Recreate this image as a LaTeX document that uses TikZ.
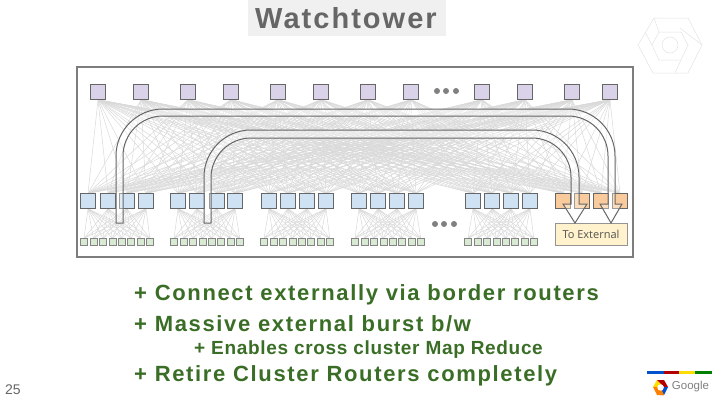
\documentclass[tikz,border=0pt]{standalone}
\usepackage{fontspec}
\setmainfont{Liberation Sans}
\newfontfamily\labelfont{Open Sans}
\usetikzlibrary{backgrounds}
\definecolor{topfill}{HTML}{D9D2E9}
\definecolor{midfill}{HTML}{CFE2F3}
\definecolor{srvfill}{HTML}{D9EAD3}
\definecolor{extfill}{HTML}{F9CB9C}
\definecolor{boxfill}{HTML}{FFF2CC}
\definecolor{linegray}{HTML}{666666}
\definecolor{bodygreen}{HTML}{3A6E26}
\tikzset{
	topsw/.style = {draw = linegray, fill = topfill, minimum size = 15pt, inner sep = 0pt},
	midsw/.style = {draw = linegray, fill = midfill, minimum size = 15pt, inner sep = 0pt},
	extsw/.style = {draw = linegray, fill = extfill, minimum size = 15pt, inner sep = 0pt},
	srv/.style = {draw = linegray!80, fill = srvfill, minimum size = 7pt, inner sep = 0pt},
	dotnode/.style = {circle, fill = gray, minimum size = 6pt, inner sep = 0pt},
	mesh/.style = {gray!30, line width = 0.5pt},
	tube/.style = {draw = linegray, line width = 1pt, fill = white, fill opacity = 0.35},
	body/.style = {text = bodygreen, font = \bfseries\addfontfeature{LetterSpace=7.5}\fontsize{22}{24}\selectfont, anchor = west, inner sep = 0pt},
	subbody/.style = {text = bodygreen, font = \bfseries\addfontfeature{LetterSpace=3.5}\fontsize{19}{21}\selectfont, anchor = west, inner sep = 0pt},
	watermark/.style = {gray!22, line width = 0.5pt}
}
\begin{document}
\begin{tikzpicture}[x = 1pt, y = -1pt]
	\useasboundingbox (0,0) rectangle (720,405);
	% title
	\node (titlebox) [fill = gray!12, minimum width = 198pt, minimum height = 36pt, inner sep = 0pt] at (347,18) {};
	\node (title) [text = linegray, font = \bfseries\addfontfeature{LetterSpace=7}\fontsize{29}{30}\selectfont, inner sep = 0pt] at (346,18) {Watchtower};
	% watermark
	\draw [watermark] (654,18) -- (688,18) -- (702,45) -- (688,73) -- (653,73) -- (638,45) -- cycle;
	\draw [watermark] (659,32) -- (681,32) -- (688,45) -- (681,60) -- (659,60) -- (652,45) -- cycle;
	\draw [watermark] (670,45) circle (8);
	\draw [watermark] (654,18) -- (659,32) (680,28) -- (702,45) (681,60) -- (675,73) (645,32) -- (652,45);
	% frame
	\node (frame) [draw = linegray!85, line width = 1.3pt, minimum width = 556pt, minimum height = 190pt, inner sep = 0pt] at (355,162) {};
	% switches
	\foreach \x [count = \i] in {98,141,188,231,278,321,368,411,482,525,572,610}
		\node (top\i) [topsw] at (\x,92) {};
	\foreach \x [count = \i] in {88,108,127,146,178,197,217,235,269,288,307,326,359,378,397,416,473,492,511,530}
		\node (mid\i) [midsw] at (\x,201) {};
	\foreach \x [count = \i] in {563,582,601,620}
		\node (ext\i) [extsw] at (\x,201) {};
	% servers
	\foreach \s [count = \g] in {84,174,264,355,468}
		\foreach \k in {0,...,7}
			\node (srv\g-\k) [srv] at ({\s + 9.4*\k},242) {};
	% mesh
	\begin{scope}[on background layer]
	\foreach \i in {1,...,12} {
		\foreach \j in {1,...,20}
			\draw [mesh] (top\i.south) -- (mid\j.north);
		\foreach \j in {1,...,4}
			\draw [mesh] (top\i.south) -- (ext\j.north);
	}
	\foreach \g in {1,...,5}
		\foreach \m in {1,...,4} {
			\pgfmathtruncatemacro{\n}{(\g-1)*4 + \m}
			\foreach \k in {0,...,7}
				\draw [mesh] (mid\n.south) -- (srv\g-\k.north);
		}
	\end{scope}
	\foreach \x [count = \i] in {437,446,456}
		\node (dota\i) [dotnode] at (\x,91) {};
	\foreach \x [count = \i] in {435,444,454}
		\node (dotb\i) [dotnode] at (\x,224) {};
	\node (external) [draw = linegray!70, fill = boxfill, minimum width = 72pt, minimum height = 22pt, inner sep = 0pt, text = linegray!80!black, font = \labelfont\fontsize{11}{12}\selectfont] at (591,234) {To External};
	% tubes
	\draw [tube] (116,223) -- (116,156) arc (180:270:47) -- (568,109) arc (-90:0:47) -- (615,204) -- (622,204) -- (611,223) -- (600,204) -- (608,204) -- (608,156) arc (0:-90:40) -- (163,116) arc (270:180:40) -- (123,223) -- cycle;
	\draw [tube] (204,223) -- (204,177) arc (180:270:47) -- (532,130) arc (-90:0:47) -- (579,204) -- (587,204) -- (575,223) -- (563,204) -- (571,204) -- (571,177) arc (0:-90:39) -- (251,138) arc (270:180:40) -- (211,223) -- cycle;
	% text
	\node (line1) [body] at (134,295) {+ Connect externally via border routers};
	\node (line2) [body] at (134,324) {+ Massive external burst b/w};
	\node (line3) [subbody] at (194,350) {+ Enables cross cluster Map Reduce};
	\node (line4) [body] at (134,376) {+ Retire Cluster Routers completely};
	\node (page) [text = linegray, font = \fontsize{14}{15}\selectfont, inner sep = 0pt] at (13,390) {25};
	% logo
	\fill [blue!60!cyan!80!black] (647,371) rectangle (664,374);
	\fill [red!70!black] (664,371) rectangle (679,374);
	\fill [yellow!80!orange] (679,371) rectangle (695,374);
	\fill [green!50!black] (695,371) rectangle (712,374);
	\fill [yellow!80!orange] (653,387) -- (657,380) -- (664,380) -- (660,387) -- cycle;
	\fill [red!70!black] (657,380) -- (664,380) -- (668,387) -- (664,387) -- cycle;
	\fill [blue!60!cyan!80!black] (668,387) -- (664,395) -- (660,395) -- (664,387) -- cycle;
	\fill [orange] (653,387) -- (657,395) -- (664,395) -- (660,387) -- cycle;
	\fill [white] (660.5,387.5) circle (3.2);
	\node (logo) [text = gray, font = \fontsize{11.5}{13}\selectfont, inner sep = 0pt] at (690.5,387) {Google};
\end{tikzpicture}
\end{document}
